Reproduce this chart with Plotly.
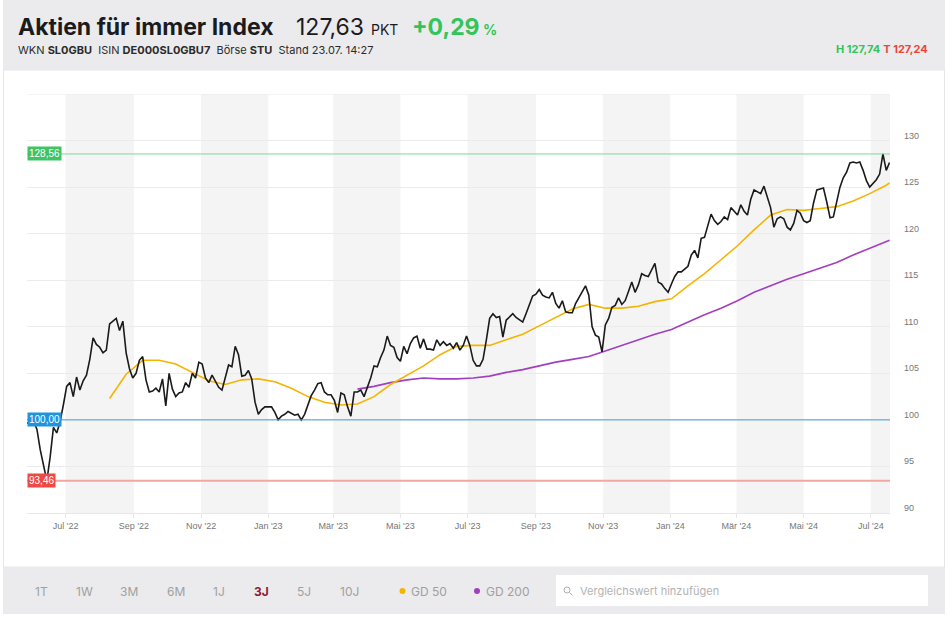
import plotly.graph_objects as go
import pandas as pd

# ---------------- data ----------------
start_date = "2022-05-27"
close = [
    99.7, 99.5, 99.8, 99.0, 96.8, 95.3, 93.46, 96.0, 99.2, 98.6,
    99.8, 101.6, 103.6, 104.0, 102.5, 104.6, 103.2, 104.2, 104.8, 106.5,
    108.8, 108.1, 107.8, 107.2, 107.5, 110.3, 110.6, 110.9, 109.6, 110.6,
    107.2, 105.5, 104.5, 105.0, 106.4, 106.8, 104.3, 103.0, 103.1, 103.4,
    103.0, 104.4, 101.5, 105.0, 103.3, 102.5, 102.9, 103.0, 104.0, 103.5,
    105.0, 104.5, 106.2, 106.0, 104.5, 104.0, 104.8, 104.1, 103.5, 103.2,
    104.6, 105.9, 105.7, 107.9, 107.0, 104.7, 104.8, 105.3, 104.4, 101.9,
    100.6, 101.1, 101.4, 101.4, 101.4, 100.8, 100.0, 100.4, 100.6, 100.9,
    100.7, 100.5, 100.6, 100.0, 100.6, 101.5, 102.6, 103.2, 103.9, 104.0,
    103.0, 102.7, 102.7, 102.1, 100.8, 102.9, 102.7, 101.4, 100.4, 103.0,
    103.0, 103.2, 102.5, 103.5, 104.5, 105.8, 105.7, 106.7, 107.5, 109.0,
    108.0, 107.8, 106.7, 106.3, 107.9, 107.1, 108.2, 108.8, 109.0, 107.7,
    108.7, 107.6, 107.6, 107.5, 108.6, 108.0, 108.4, 108.0, 108.2, 107.7,
    108.3, 107.5, 108.0, 109.0, 108.0, 106.4, 105.8, 105.8, 106.5, 108.6,
    110.9, 111.4, 111.0, 111.1, 108.9, 110.7, 111.1, 111.4, 111.0, 110.7,
    110.5, 111.4, 112.3, 113.3, 113.5, 114.0, 113.4, 113.2, 113.1, 113.7,
    112.5, 112.0, 112.8, 111.6, 111.5, 111.5, 112.5, 113.1, 113.8, 114.4,
    113.4, 110.0, 109.1, 108.9, 107.3, 110.2, 110.9, 112.1, 112.3, 113.1,
    112.4, 112.8, 113.8, 114.8, 113.7, 114.5, 115.7, 115.5, 115.4, 116.2,
    116.8, 114.8, 114.6, 114.1, 113.7, 114.6, 115.4, 115.9, 115.9, 116.2,
    116.5, 117.7, 118.2, 117.4, 119.5, 119.6, 120.9, 122.1, 121.4, 121.0,
    121.3, 121.8, 121.5, 122.8, 122.4, 122.0, 123.1, 122.4, 122.0, 123.7,
    124.7, 124.5, 124.3, 125.1, 124.0, 122.8, 120.7, 121.6, 121.8, 121.6,
    120.7, 120.4, 121.1, 122.5, 122.2, 121.4, 121.2, 121.4, 123.3, 124.7,
    124.8, 124.9, 123.4, 121.7, 121.8, 123.6, 125.0, 126.0, 126.6, 127.6,
    127.7, 127.6, 127.7, 126.8, 125.7, 125.0, 125.4, 125.8, 126.4, 128.56,
    126.8, 127.63,
]
close_dates = pd.date_range(start_date, periods=len(close), freq="3D")

gd50_dates = [
    "2022-08-10", "2022-08-25", "2022-09-09", "2022-09-24", "2022-10-09", "2022-10-24",
    "2022-11-08", "2022-11-23", "2022-12-08", "2022-12-23", "2023-01-07", "2023-01-22",
    "2023-02-06", "2023-02-21", "2023-03-08", "2023-03-23", "2023-04-07", "2023-04-22",
    "2023-05-07", "2023-05-22", "2023-06-06", "2023-06-21", "2023-07-06", "2023-07-21",
    "2023-08-05", "2023-08-20", "2023-09-04", "2023-09-19", "2023-10-04", "2023-10-19",
    "2023-11-03", "2023-11-18", "2023-12-03", "2023-12-18", "2024-01-02", "2024-01-17",
    "2024-02-01", "2024-02-16", "2024-03-02", "2024-03-17", "2024-04-01", "2024-04-16",
    "2024-05-01", "2024-05-16", "2024-05-31", "2024-06-15", "2024-06-30", "2024-07-15",
    "2024-07-18",
]
gd50 = [
    102.3, 104.9, 106.4, 106.4, 106.0, 105.1,
    104.2, 103.8, 104.3, 104.4, 104.1, 103.4,
    102.5, 101.9, 101.6, 101.7, 102.5, 103.8,
    104.8, 105.8, 107.0, 107.9, 108.0, 108.0,
    108.6, 109.2, 110.1, 111.0, 111.9, 112.4,
    112.0, 112.0, 112.2, 112.7, 113.0, 114.4,
    115.7, 117.2, 118.7, 120.4, 122.0, 122.6,
    122.5, 122.7, 122.9, 123.5, 124.3, 125.2,
    125.45,
]

gd200_dates = [
    "2023-03-23", "2023-04-07", "2023-04-22", "2023-05-07", "2023-05-22", "2023-06-06",
    "2023-06-21", "2023-07-06", "2023-07-21", "2023-08-05", "2023-08-20", "2023-09-04",
    "2023-09-19", "2023-10-04", "2023-10-19", "2023-11-03", "2023-11-18", "2023-12-03",
    "2023-12-18", "2024-01-02", "2024-01-17", "2024-02-01", "2024-02-16", "2024-03-02",
    "2024-03-17", "2024-04-01", "2024-04-16", "2024-05-01", "2024-05-16", "2024-05-31",
    "2024-06-15", "2024-06-30", "2024-07-15", "2024-07-18",
]
gd200 = [
    103.3, 103.6, 104.0, 104.3, 104.5, 104.4,
    104.4, 104.5, 104.7, 105.1, 105.4, 105.8,
    106.2, 106.5, 106.8, 107.4, 108.0, 108.6,
    109.2, 109.7, 110.5, 111.3, 112.0, 112.8,
    113.7, 114.4, 115.1, 115.7, 116.3, 116.9,
    117.7, 118.4, 119.1, 119.3,
]

x_tick_vals = ["2022-07-01", "2022-09-01", "2022-11-01", "2023-01-01", "2023-03-01",
               "2023-05-01", "2023-07-01", "2023-09-01", "2023-11-01", "2024-01-01",
               "2024-03-01", "2024-05-01", "2024-07-01"]
x_tick_text = ["Jul '22", "Sep '22", "Nov '22", "Jan '23", "Mär '23", "Mai '23", "Jul '23",
               "Sep '23", "Nov '23", "Jan '24", "Mär '24", "Mai '24", "Jul '24"]
band_starts = ["2022-07-01", "2022-11-01", "2023-03-01", "2023-07-01", "2023-11-01",
               "2024-03-01", "2024-07-01"]
band_ends = ["2022-09-01", "2023-01-01", "2023-05-01", "2023-09-01", "2024-01-01",
             "2024-05-01", "2024-07-18 12:00"]
y_tick_vals = [90, 95, 100, 105, 110, 115, 120, 125, 130]

level_high, level_base, level_low = 128.56, 100.00, 93.46
level_high_txt, level_base_txt, level_low_txt = "128,56", "100,00", "93,46"

x_range = ["2022-05-27", "2024-07-18 10:00"]
y_range = [90, 135]

# ---------------- layout helpers (pixel -> paper) ----------------
W, H = 949, 622
L, R, T, B = 27, 890, 94, 513


def px(x):
    return (x - L) / (R - L)


def py(y):
    return (B - y) / (B - T)


FONT = "Inter, Roboto, Arial, sans-serif"
AXF = "Liberation Sans, Arial, sans-serif"
GREEN = "#33c45a"
RED = "#e8463c"

fig = go.Figure()

fig.add_trace(go.Scatter(x=gd200_dates, y=gd200, mode="lines",
                         line=dict(color="#a03fbf", width=1.6), hoverinfo="skip"))
fig.add_trace(go.Scatter(x=gd50_dates, y=gd50, mode="lines",
                         line=dict(color="#f4b400", width=1.6), hoverinfo="skip"))
fig.add_trace(go.Scatter(x=close_dates, y=close, mode="lines",
                         line=dict(color="#1a1a1a", width=1.6), hoverinfo="skip"))

shapes = []
# header / bottom bar / white panel
shapes.append(dict(type="rect", xref="paper", yref="paper", x0=px(3), x1=px(945),
                   y0=py(0), y1=py(70), fillcolor="#ebebed", line=dict(width=0), layer="below"))
shapes.append(dict(type="rect", xref="paper", yref="paper", x0=px(3.5), x1=px(944.5),
                   y0=py(70), y1=py(567), fillcolor="white",
                   line=dict(color="#e6e6e6", width=1), layer="below"))
shapes.append(dict(type="rect", xref="paper", yref="paper", x0=px(3), x1=px(945),
                   y0=py(567), y1=py(614), fillcolor="#ebebed", line=dict(width=0), layer="below"))
shapes.append(dict(type="rect", xref="paper", yref="paper", x0=px(556), x1=px(928),
                   y0=py(575), y1=py(606), fillcolor="white", line=dict(width=0), layer="below"))
# search icon
shapes.append(dict(type="circle", xref="paper", yref="paper", x0=px(564), x1=px(570),
                   y0=py(587), y1=py(593), line=dict(color="#b0b0b0", width=1)))
shapes.append(dict(type="line", xref="paper", yref="paper", x0=px(569.5), x1=px(572.5),
                   y0=py(592.5), y1=py(595.5), line=dict(color="#b0b0b0", width=1)))
# legend dots
shapes.append(dict(type="circle", xref="paper", yref="paper", x0=px(399.5), x1=px(405.5),
                   y0=py(588), y1=py(594), fillcolor="#f4b400", line=dict(width=0)))
shapes.append(dict(type="circle", xref="paper", yref="paper", x0=px(474), x1=px(480),
                   y0=py(588), y1=py(594), fillcolor="#a03fbf", line=dict(width=0)))
# shaded month bands
for s, e in zip(band_starts, band_ends):
    shapes.append(dict(type="rect", xref="x", yref="paper", x0=s, x1=e, y0=0, y1=1,
                       fillcolor="#f4f4f4", line=dict(width=0), layer="below"))
# top gridline
shapes.append(dict(type="line", xref="paper", yref="y", x0=0, x1=1, y0=135, y1=135,
                   line=dict(color="#ebebeb", width=1), layer="below"))
# level lines
shapes.append(dict(type="line", xref="paper", yref="y", x0=0, x1=1, y0=level_high, y1=level_high,
                   line=dict(color="#7ed69a", width=1)))
shapes.append(dict(type="line", xref="paper", yref="y", x0=0, x1=1, y0=level_base, y1=level_base,
                   line=dict(color="#3d9ad8", width=1)))
shapes.append(dict(type="line", xref="paper", yref="y", x0=0, x1=1, y0=level_low, y1=level_low,
                   line=dict(color="#f2a7a2", width=2)))

ann = []


def text(x, y, s, size, color, anchor="left", family=FONT):
    ann.append(dict(x=px(x), y=py(y), xref="paper", yref="paper", text=s, showarrow=False,
                    xanchor=anchor, yanchor="middle", font=dict(size=size, color=color, family=family)))


# header
text(16, 27, "<b>Aktien für immer Index</b>", 23, "#1b1b1d")
text(294, 27, "127,63", 23, "#1b1b1d")
text(369, 29, "PKT", 14, "#1b1b1d")
text(410, 27, "<b>+0,29</b>", 23, GREEN)
text(481, 29, "<b>%</b>", 14, GREEN)
text(16, 50, "WKN <b>SL0GBU</b>  ISIN <b>DE000SL0GBU7</b>  Börse <b>STU</b>  Stand 23.07. 14:27",
     11, "#2b2b2b")
ann.append(dict(x=px(930), y=py(49), xref="paper", yref="paper", showarrow=False,
                xanchor="right", yanchor="middle",
                text=f"<span style='color:{GREEN}'><b>H 127,74</b></span> "
                     f"<span style='color:{RED}'><b>T 127,24</b></span>",
                font=dict(size=11, family=FONT)))

# level labels
for val, txt, col in [(level_high, level_high_txt, "#3ec463"),
                      (level_base, level_base_txt, "#1f93dd"),
                      (level_low, level_low_txt, "#ee4a44")]:
    ann.append(dict(x=0, y=val, xref="paper", yref="y", text=txt, showarrow=False,
                    xanchor="left", yanchor="middle", bgcolor=col, borderpad=1,
                    font=dict(size=10, color="white", family=AXF)))

# y tick labels (slightly above the grid lines, as in the reference)
for v in y_tick_vals:
    ann.append(dict(x=px(902), y=v, xref="paper", yref="y", text=str(v), showarrow=False,
                    xanchor="left", yanchor="middle", yshift=5,
                    font=dict(size=9, color="#777777", family=AXF)))

# bottom bar
for cx, lab in [(41, "1T"), (84, "1W"), (129, "3M"), (176, "6M"), (219, "1J"),
                (304, "5J"), (349, "10J")]:
    text(cx, 591, lab, 12, "#a0a0a0", anchor="center")
text(261, 591, "<b>3J</b>", 12, "#8e1b33", anchor="center")
text(409, 591, "GD 50", 12, "#a0a0a0")
text(484, 591, "GD 200", 12, "#a0a0a0")
text(578, 591, "Vergleichswert hinzufügen", 11, "#b3b3b3")

fig.update_layout(
    width=W, height=H, margin=dict(l=L, r=W - R, t=T, b=H - B),
    paper_bgcolor="white", plot_bgcolor="white", showlegend=False,
    shapes=shapes, annotations=ann, hovermode=False,
    xaxis=dict(type="date", range=x_range, tickvals=x_tick_vals, ticktext=x_tick_text,
               showgrid=False, zeroline=False, showline=True, linecolor="#e8e8e8",
               ticks="outside", ticklen=4, tickcolor="#e8e8e8",
               tickfont=dict(size=9, color="#777777", family=AXF)),
    yaxis=dict(range=y_range, tickvals=y_tick_vals, showticklabels=False,
               showgrid=True, gridcolor="#ebebeb", gridwidth=1, zeroline=False,
               side="right"),
)

fig.write_html("out.html", config={"displayModeBar": False},
               post_script="document.body.style.margin='0';")
